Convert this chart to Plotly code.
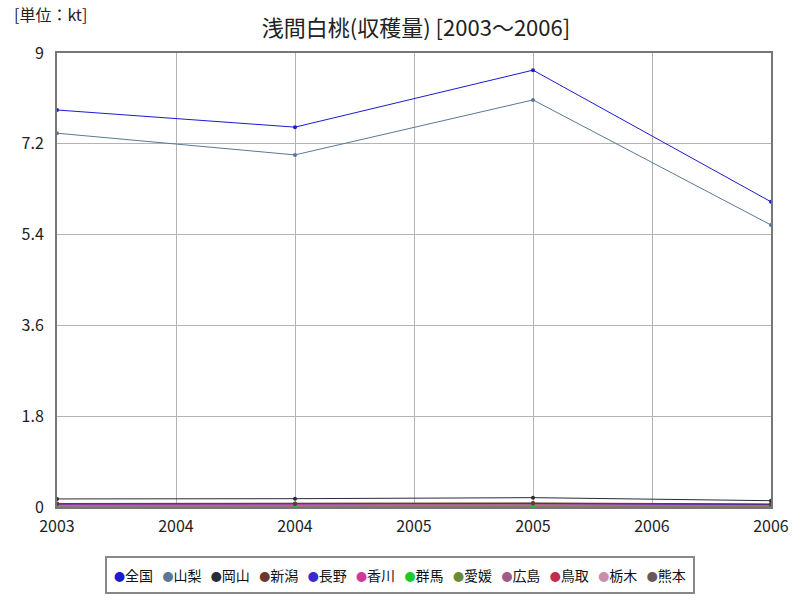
import plotly.graph_objects as go

years = [2003, 2004, 2005, 2006]
regions = ["全国", "山梨", "岡山", "新潟", "長野", "香川", "群馬", "愛媛", "広島", "鳥取", "栃木", "熊本"]
values = {
    "全国": [7.87, 7.53, 8.66, 6.05],
    "山梨": [7.41, 6.98, 8.07, 5.59],
    "岡山": [0.16, 0.165, 0.185, 0.125],
    "新潟": [0.07, 0.07, 0.08, 0.06],
    "長野": [0.06, 0.06, 0.07, 0.05],
    "香川": [0.05, 0.06, 0.07, 0.05],
    "群馬": [0.03, 0.03, 0.03, 0.03],
    "愛媛": [0.03, 0.03, 0.03, 0.02],
    "広島": [0.06, 0.06, 0.06, 0.05],
    "鳥取": [0.04, 0.04, 0.04, 0.04],
    "栃木": [0.02, 0.02, 0.02, 0.02],
    "熊本": [0.01, 0.01, 0.01, 0.01],
}
colors = {
    "全国": "#1c1ccc", "山梨": "#5a7896", "岡山": "#2a2a38", "新潟": "#6a3a26",
    "長野": "#3a28cc", "香川": "#d0399a", "群馬": "#18cc30", "愛媛": "#6a8a3a",
    "広島": "#a05a86", "鳥取": "#c02e4a", "栃木": "#c890a8", "熊本": "#6a5858",
}
x_tickvals = [2003, 2003.5, 2004, 2004.5, 2005, 2005.5, 2006]
x_ticktext = ["2003", "2004", "2004", "2005", "2005", "2006", "2006"]
y_tickvals = [0, 1.8, 3.6, 5.4, 7.2, 9]
y_ticktext = ["0", "1.8", "3.6", "5.4", "7.2", "9"]

font = "Noto Sans CJK JP"
fig = go.Figure()
for r in reversed(regions):
    fig.add_trace(go.Scatter(
        x=years, y=values[r], mode="lines+markers", name=r, showlegend=False,
        line=dict(color=colors[r], width=1), marker=dict(color=colors[r], size=4),
    ))

legend_text = "&nbsp;&nbsp;&nbsp;".join(
    f"<span style='color:{colors[r]}; font-size:11px'>●</span>{r}" for r in regions
)

fig.update_layout(
    width=800, height=600,
    margin=dict(l=57, r=29, t=53, b=93),
    paper_bgcolor="white", plot_bgcolor="white",
    font=dict(family=font, color="#222"),
    showlegend=False,
    title=dict(text="浅間白桃(収穫量) [2003～2006]", x=0.52, xanchor="center",
               y=0.953, yanchor="middle", font=dict(size=22, color="#222")),
    xaxis=dict(range=[2003, 2006], tickvals=x_tickvals, ticktext=x_ticktext,
               showgrid=True, gridcolor="#b4b4b4", gridwidth=1,
               showline=True, linecolor="#777", linewidth=2, mirror=True,
               zeroline=False, tickfont=dict(size=16, color="#222"), ticks="",
               ticklabelstandoff=4),
    yaxis=dict(range=[0, 9], tickvals=y_tickvals, ticktext=y_ticktext,
               showgrid=True, gridcolor="#b4b4b4", gridwidth=1,
               showline=True, linecolor="#777", linewidth=2, mirror=True,
               zeroline=False, tickfont=dict(size=16, color="#222"), ticks="",
               ticklabelstandoff=8),
    annotations=[
        dict(text="[単位：kt]", xref="paper", yref="paper",
             x=-0.063, y=1.085, xanchor="left", yanchor="middle",
             showarrow=False, font=dict(size=16, color="#222")),
        dict(text=legend_text, xref="paper", yref="paper",
             x=(400 - 57) / 714, y=-(575 - 507) / 454, xanchor="center", yanchor="middle",
             showarrow=False, font=dict(size=14, color="#111"),
             bordercolor="#888", borderwidth=2, borderpad=7, bgcolor="white"),
    ],
)
fig.write_html("out.html")
